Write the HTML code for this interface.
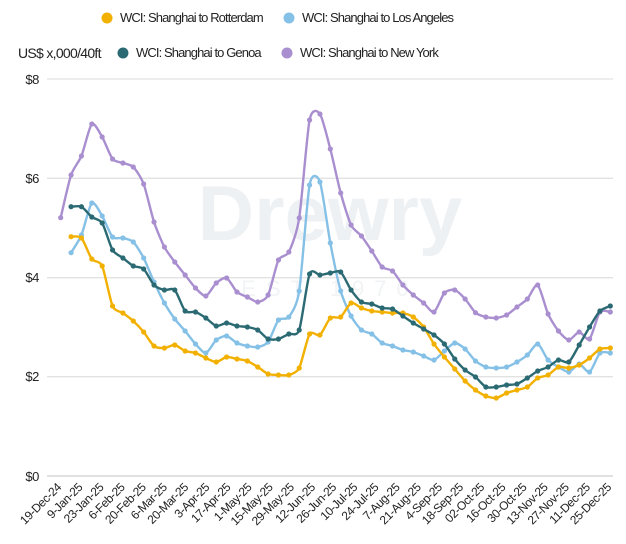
<!DOCTYPE html>
<html><head><meta charset="utf-8"><style>
html,body{margin:0;padding:0;background:#fff;}
body{width:626px;height:539px;overflow:hidden;font-family:"Liberation Sans",sans-serif;}
</style></head><body>
<svg id="s" width="626" height="539" xmlns="http://www.w3.org/2000/svg" font-family="Liberation Sans, sans-serif">
<text x="330" y="240" font-size="78" font-weight="bold" fill="#eef1f4" text-anchor="middle">Drewry</text>
<text x="330" y="296" font-size="22" fill="#f1f3f5" text-anchor="middle" letter-spacing="10">EST 1970</text>
<g stroke="#e2e2e2" stroke-width="1.3">
<line x1="47" y1="79" x2="613" y2="79"/><line x1="47" y1="178.3" x2="613" y2="178.3"/>
<line x1="47" y1="277.7" x2="613" y2="277.7"/><line x1="47" y1="376.7" x2="613" y2="376.7"/>
</g>
<line x1="47" y1="476" x2="613" y2="476" stroke="#cfcfcf" stroke-width="1.3"/>
<g font-size="13" fill="#222" text-anchor="end" letter-spacing="-0.4">
<text x="39" y="84">$8</text><text x="39" y="183">$6</text><text x="39" y="282">$4</text><text x="39" y="381">$2</text><text x="39" y="481">$0</text>
</g>
<g font-size="13" fill="#222" letter-spacing="-0.9">
<circle cx="107" cy="18" r="5.5" fill="#f2b000"/><text x="120" y="22">WCI: Shanghai to Rotterdam</text>
<circle cx="289" cy="18" r="5.5" fill="#85c0e6"/><text x="302" y="22">WCI: Shanghai to Los Angeles</text>
<text x="18" y="58" font-size="14" letter-spacing="-0.7">US$ x,000/40ft</text>
<circle cx="123" cy="53" r="5.5" fill="#2b6a73"/><text x="136" y="57">WCI: Shanghai to Genoa</text>
<circle cx="287" cy="53" r="5.5" fill="#a98fcf"/><text x="300" y="57">WCI: Shanghai to New York</text>
</g>
<g id="series"></g>
<g id="xl" font-size="12" fill="#222" letter-spacing="-0.4"></g>
</svg>
<script>
var ns="http://www.w3.org/2000/svg";
function X(i){return 60.7+10.37*i;}
var S=[
["#a98fcf",0,[217.7,175,156,124,137,159,163,167,184,222,247,262,275,288,296,283,278,292,297,302,295,260,252,218,120,114,149,193,225,236,251,267,271,285,295,303,312,293,290,299,312.7,317,318,315,307,299,285,314,331,340,332,339,312,312]],
["#85c0e6",1,[252.7,235,203,216,237,238,242,258,282,303,319,331,344,353,340,336,343,346,347,342,320,317,291,185,182,243,291,316,330,334,343,346,350,352,356,360,351,343,349,361,367,368,367,362,355,344,360,367,372,364,372,353,353]],
["#f2b000",1,[236.7,238,259,266,306,313,321,332,346,348,345,351,353,358,362,357,359,361,367,374,375,375,368,334,335,318,317,303,308,311,312,313,313,317,327,344,357,369,381,390,396,398,393,390,387,378,375,367,368,365,358,349,348]],
["#2b6a73",1,[206.7,206.7,217,223,250,258,266,269,285,290,290,311,312,318,326,323,326,327,330,339,339,334,330,274,275,273,272,290,302,304,308,309,316,323,329,335,344,359,370,377,387,387,385,384,378,371,367,360,362,345,327,311,306]]
];
var g=document.getElementById("series");
S.forEach(function(s){
 var p=s[2].map(function(y,k){return [X(k+s[1]),y];});
 var d="M"+p[0][0]+","+p[0][1];
 for(var i=0;i<p.length-1;i++){
  var p0=p[i>0?i-1:i],p1=p[i],p2=p[i+1],p3=p[i+2<p.length?i+2:i+1];
  var t=0.12;
  d+=" C"+(p1[0]+(p2[0]-p0[0])*t)+","+(p1[1]+(p2[1]-p0[1])*t)+" "+(p2[0]-(p3[0]-p1[0])*t)+","+(p2[1]-(p3[1]-p1[1])*t)+" "+p2[0]+","+p2[1];
 }
 var path=document.createElementNS(ns,"path");
 path.setAttribute("d",d);path.setAttribute("fill","none");path.setAttribute("stroke",s[0]);path.setAttribute("stroke-width","2.4");path.setAttribute("stroke-linejoin","round");
 g.appendChild(path);
 p.forEach(function(q){var c=document.createElementNS(ns,"circle");c.setAttribute("cx",q[0]);c.setAttribute("cy",q[1]);c.setAttribute("r","2.6");c.setAttribute("fill",s[0]);g.appendChild(c);});
});
var L=["19-Dec-24","9-Jan-25","23-Jan-25","6-Feb-25","20-Feb-25","6-Mar-25","20-Mar-25","3-Apr-25","17-Apr-25","1-May-25","15-May-25","29-May-25","12-Jun-25","26-Jun-25","10-Jul-25","24-Jul-25","7-Aug-25","21-Aug-25","4-Sep-25","18-Sep-25","02-Oct-25","16-Oct-25","30-Oct-25","13-Nov-25","27-Nov-25","11-Dec-25","25-Dec-25"];
var xl=document.getElementById("xl");
L.forEach(function(l,k){
 var x=62+21.15*k,y=488;
 var t=document.createElementNS(ns,"text");
 t.setAttribute("x",x);t.setAttribute("y",y);t.setAttribute("text-anchor","end");
 t.setAttribute("transform","rotate(-45 "+x+" "+y+")");t.textContent=l;xl.appendChild(t);
});
</script>
</body></html>
